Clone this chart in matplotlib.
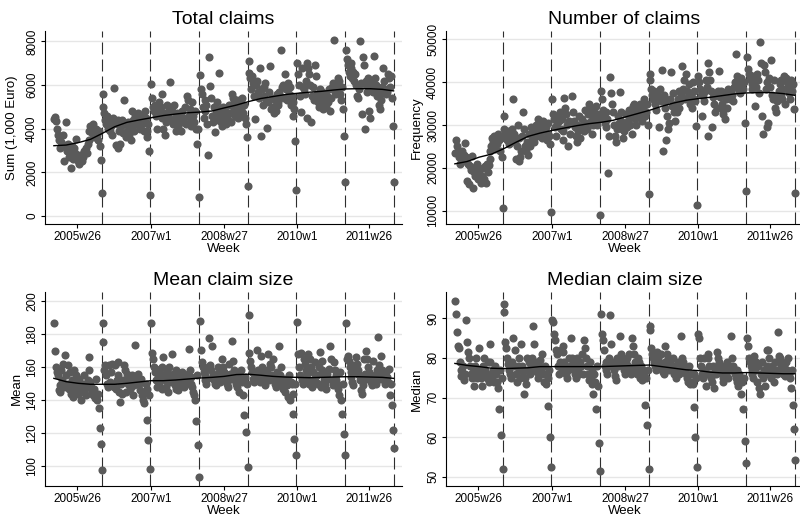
import numpy as np
import matplotlib
matplotlib.use("Agg")
import matplotlib.pyplot as plt

plt.rcParams['font.family'] = ['Liberation Sans', 'DejaVu Sans']

# weekly series, 2005w1 .. 2011w52 (one row of 10 weeks per line, 52 weeks per year)
total_claims = [
    # 2005
    4450, 4550, 4350, 4000, 3700, 3500, 3600, 3100, 3400, 3300,
    3700, 2500, 3200, 4300, 3000, 3300, 2700, 2900, 2200, 3200,
    2600, 2800, 3100, 2900, 3550, 2700, 2500, 2400, 2800, 2600,
    2500, 2700, 3000, 2900, 3100, 2900, 3300, 3500, 3900, 4100,
    4000, 3800, 4200, 3600, 3900, 4000, 3700, 3500, 3900, 3200,
    2550, 1040,
    # 2006
    5600, 5000, 4700, 4400, 4200, 4600, 4000, 4300, 3900, 4100,
    3700, 4500, 5850, 4300, 3250, 4200, 4400, 3100, 3900, 3300,
    4100, 4400, 3800, 5300, 4200, 3600, 3900, 4300, 3700, 4000,
    3500, 4100, 4800, 4400, 3900, 4600, 4200, 4500, 4700, 4300,
    4000, 4600, 4200, 4400, 3900, 4800, 4500, 3900, 3600, 4200,
    3000, 960,
    # 2007
    6050, 5400, 5000, 4800, 5100, 4600, 4000, 4900, 5200, 4700,
    5000, 4500, 5600, 4000, 4700, 3700, 4300, 5100, 4600, 4900,
    6150, 4400, 4800, 4200, 5100, 4500, 3900, 4300, 4700, 4100,
    4600, 4400, 3900, 4800, 4300, 4500, 5000, 4200, 5500, 5300,
    4600, 4900, 4100, 4400, 5200, 4600, 4300, 4800, 4000, 3300,
    4000, 850,
    # 2008
    6450, 5800, 5600, 5000, 4500, 5300, 4800, 5100, 4200, 2800,
    7300, 5950, 5400, 4600, 4300, 5000, 3850, 4700, 5200, 4400,
    6550, 4600, 4900, 4300, 4100, 5000, 4500, 4800, 4200, 4600,
    4400, 5100, 4700, 4300, 5600, 5400, 4900, 5200, 4600, 5000,
    5300, 4500, 4800, 5200, 4900, 5400, 4700, 5100, 4500, 4200,
    3600, 1380,
    # 2009
    7100, 6550, 6300, 5800, 6400, 6100, 5500, 4450, 6000, 6200,
    5700, 5400, 6800, 3650, 5800, 5100, 5900, 5500, 6100, 5300,
    4050, 5200, 5700, 6850, 4900, 5400, 5000, 4700, 5300, 4800,
    5600, 5200, 5100, 5700, 5500, 7600, 5900, 6000, 5400, 6500,
    5800, 5300, 6100, 5600, 5900, 5100, 5500, 4600, 5200, 4900,
    3450, 1200,
    # 2010
    7000, 6500, 6000, 5500, 4750, 6800, 5900, 5800, 5600, 6200,
    4500, 7000, 6800, 6500, 6000, 4300, 5500, 5900, 5300, 6900,
    6400, 5600, 5200, 5000, 5800, 5400, 5100, 5700, 4900, 5300,
    5600, 5000, 5500, 5200, 5800, 4800, 5400, 5900, 6100, 8050,
    5700, 5600, 6000, 5800, 6300, 6200, 5600, 5300, 5900, 4900,
    3650, 1550,
    # 2011
    7600, 7200, 6900, 6600, 6400, 7000, 6800, 6300, 6600, 6200,
    6500, 6000, 5500, 5400, 5800, 8000, 6100, 4650, 7300, 6900,
    4000, 6200, 6000, 5700, 6300, 4800, 4500, 5900, 6100, 5700,
    7350, 6300, 6000, 5500, 5800, 5100, 4900, 5600, 5300, 5900,
    6800, 6200, 5800, 5600, 5700, 6500, 6300, 5900, 6400, 5400,
    4100, 1580,
]

number_claims = [
    # 2005
    23500, 26500, 25000, 24000, 22500, 21000, 23000, 22000, 24000, 21500,
    23000, 25700, 22500, 17000, 21000, 16200, 20500, 19500, 22700, 15200,
    19000, 20000, 18000, 19500, 21000, 17500, 18500, 19800, 16500, 18000,
    20000, 17500, 20500, 16500, 21000, 19000, 20700, 24000, 22000, 25000,
    27000, 26000, 27500, 24500, 26800, 25500, 27800, 26500, 24000, 27000,
    22500, 10600,
    # 2006
    32000, 29000, 28000, 27000, 26500, 28500, 25500, 27500, 26000, 29000,
    36000, 28000, 26500, 22000, 25000, 30000, 21500, 27000, 22500, 24000,
    27500, 33000, 29000, 25000, 24000, 26000, 23000, 28000, 25000, 29500,
    26500, 27000, 28500, 26000, 29000, 30000, 27500, 31500, 28000, 30500,
    29000, 27000, 31000, 28500, 30000, 29500, 26500, 28000, 30500, 27500,
    25500, 9700,
    # 2007
    36000, 32500, 31500, 29500, 27500, 30500, 32000, 31000, 33000, 29000,
    31500, 26500, 28500, 36300, 34000, 32500, 30000, 25000, 31000, 28000,
    30500, 36800, 33000, 31000, 29500, 27500, 26000, 30000, 28500, 32000,
    27000, 29500, 31500, 30000, 28500, 33500, 30500, 29000, 32500, 35000,
    34000, 31000, 28000, 32500, 30000, 33000, 31500, 34500, 30000, 32500,
    31500, 9000,
    # 2008
    38000, 36000, 33500, 32000, 30500, 33000, 29500, 31500, 18700, 27500,
    41200, 37500, 35000, 33000, 30000, 27500, 26000, 29000, 32000, 30500,
    37800, 33000, 31000, 29000, 27000, 28500, 30500, 32500, 29500, 31000,
    33500, 30000, 32000, 28000, 34500, 35000, 33000, 31500, 30000, 32500,
    34000, 32000, 35000, 33500, 31000, 34000, 36000, 32000, 33000, 35000,
    30000, 13800,
    # 2009
    42000, 40500, 38500, 37000, 36000, 38000, 35000, 33500, 37500, 36500,
    29500, 38500, 35500, 42800, 24000, 37000, 34000, 35500, 26500, 32000,
    29000, 30500, 36000, 42400, 34500, 37500, 33000, 31000, 35000, 33000,
    36000, 38000, 34000, 35500, 37000, 43900, 38500, 40500, 36000, 42000,
    38000, 36500, 39500, 35000, 37000, 34000, 40000, 36000, 38000, 35500,
    29700, 11400,
    # 2010
    41500, 40000, 38500, 37000, 32000, 37000, 35500, 38000, 40500, 39000,
    27400, 44500, 42500, 40500, 38000, 29500, 36500, 35000, 33000, 37000,
    34000, 38000, 42700, 36500, 38000, 35000, 33500, 32500, 37500, 31500,
    36000, 34000, 38500, 37500, 36000, 38000, 37000, 35500, 39000, 40000,
    46500, 41500, 39000, 40000, 38000, 37500, 41000, 39500, 38500, 40000,
    30500, 14500,
    # 2011
    45800, 43000, 42000, 41000, 40500, 39500, 38500, 41500, 40000, 34500,
    39000, 42000, 40500, 37500, 49500, 44500, 32000, 27800, 44000, 42500,
    38500, 29500, 40000, 30500, 41000, 39000, 45200, 37000, 36000, 40500,
    34000, 33000, 35500, 36500, 38000, 39500, 37000, 40500, 36000, 38500,
    41500, 35000, 41000, 40000, 39000, 37500, 36000, 40500, 38000, 39500,
    33800, 14200,
]

mean_claim = [
    # 2005
    186.5, 169.5, 160, 157, 155, 146, 149, 145, 158, 152,
    162, 148, 167.5, 155, 150, 161, 147, 157, 144, 152,
    142, 149, 158, 146, 155, 151, 144, 153, 148, 140,
    145, 150, 155, 147, 143, 149, 152, 158, 166, 151,
    148, 145, 143, 147, 141, 153, 140, 144, 135.5, 123,
    113.5, 97.5,
    # 2006
    175, 186.5, 158, 161, 155, 150, 148, 161, 151, 157,
    162, 149, 148, 161, 147, 152, 155, 163, 145, 139,
    150, 144, 152, 161, 158, 145, 156, 150, 153, 147,
    148, 152, 155, 143, 149, 173.5, 154, 151, 156, 150,
    146, 153, 143, 140, 138.5, 145, 150, 128, 147, 116,
    143, 98.5,
    # 2007
    187, 168.5, 165, 160, 157, 152, 148, 155, 150, 159,
    153, 147, 160, 166, 155, 152, 148, 157, 145, 160,
    151, 154, 168, 156, 153, 149, 147, 158, 150, 146,
    155, 152, 149, 157, 151, 148, 154, 150, 153, 156,
    171, 158, 154, 150, 148, 145, 143, 140, 127.5, 155,
    112.5, 93.5,
    # 2008
    188, 170.5, 163, 160, 157, 152, 155, 150, 153, 160,
    177.5, 161, 158, 173, 155, 152, 150, 149, 156, 160,
    154, 151, 157, 153, 165, 160, 157, 155, 152, 150,
    148, 162, 156, 153, 176, 164, 158, 155, 152, 150,
    148, 156, 145, 153, 158, 151, 143, 131, 154, 120.5,
    150, 99.5,
    # 2009
    191.5, 168.5, 164, 160, 157, 153, 151, 155, 152, 170.5,
    158, 154, 151, 166.5, 160, 157, 154, 151, 149, 155,
    158, 168, 152, 162, 160, 155, 165, 152, 150, 148,
    157, 154, 151, 173, 155, 160, 150, 147, 153, 145,
    152, 149, 142, 155, 140, 151, 150, 131.5, 144, 116.5,
    150, 106.5,
    # 2010
    187.5, 168, 160, 155, 168.5, 152, 150, 165, 162, 158,
    153, 156, 168, 150, 165, 160, 148, 157, 153, 163,
    151, 155, 150, 160, 169, 148, 164, 158, 155, 152,
    150, 147, 156, 153, 159, 173, 165, 152, 149, 163,
    158, 155, 152, 150, 147, 143, 157, 140, 131.5, 150,
    119.5, 107,
    # 2011
    187, 165, 167, 164, 160, 157, 154, 151, 149, 161,
    157, 166, 162, 158, 155, 152, 146, 144, 149, 165,
    156, 153, 170, 165, 160, 157, 154, 151, 149, 164,
    152, 155, 150, 158, 178.5, 161, 156, 153, 167, 158,
    155, 152, 150, 157, 154, 151, 159, 143, 150, 137,
    122, 111,
]

median_claim = [
    # 2005
    94.3, 91, 86.5, 83, 82.5, 79, 77, 75.5, 76.5, 78,
    74.5, 76, 89.5, 84, 81.5, 80, 78, 76, 75, 77.5,
    73, 76, 78, 80, 75, 77, 82.5, 76, 75, 72.8,
    78, 80, 77, 76, 75, 79, 74, 83.5, 79, 76,
    75, 77, 74, 78, 76, 74, 72.5, 67, 77, 60.5,
    75, 52,
    # 2006
    93.6, 91.5, 84, 82.5, 80, 78.5, 77, 76, 75, 79,
    85, 78, 82, 76, 74, 78, 80, 77, 75, 83.5,
    78, 76.5, 71, 75, 73.5, 80, 77, 79, 76, 78,
    80, 77, 88, 83.5, 79, 78, 76.5, 75, 78, 79.5,
    77, 81, 76, 74, 78, 73.5, 76, 75, 67.8, 77,
    60, 52.5,
    # 2007
    89.5, 89, 86, 84.5, 82, 81, 78, 76, 79, 82,
    77, 83, 81.5, 79, 77.5, 76, 75, 77, 80, 78,
    85, 80, 79, 77, 76, 75, 78, 80, 77, 76,
    79, 78, 81, 76, 84.5, 82.5, 80, 78, 76, 74.5,
    79, 75, 77, 73.5, 71, 76, 74, 67, 78, 73,
    58.5, 51.5,
    # 2008
    91, 86, 84.5, 82, 78, 77, 79, 76, 78, 80,
    90.8, 83.5, 79, 78, 77, 75.5, 74.5, 80, 78, 79,
    85.5, 81, 80, 79, 78, 77, 76, 79, 80, 78,
    81, 77, 76, 85, 83, 81, 79, 78, 77, 76,
    80, 79, 75, 78, 74.5, 77, 76, 68, 75, 63,
    77, 52,
    # 2009
    88, 87, 82.5, 81, 80, 79, 78, 77, 81.5, 80,
    79, 78, 81, 77, 76.5, 76, 79, 83, 78, 81,
    80, 77, 79, 78, 77, 80, 76, 78, 75, 77,
    79, 76, 78, 77, 85.5, 80, 79, 78, 77, 76,
    75, 74, 78, 73.5, 76, 74, 73.5, 67.5, 76, 60,
    75, 52.5,
    # 2010
    86, 85, 80, 78, 76, 75, 80, 77, 73, 76,
    81, 80, 78, 76, 75, 74, 78, 72.5, 77, 76,
    81.5, 80, 79, 78, 77, 76, 75, 74, 78, 77,
    76, 79, 75, 78, 77, 85.5, 80, 78, 77, 76,
    75, 74, 77, 73, 76, 75, 71, 74, 67, 75,
    59, 53.5,
    # 2011
    85, 83, 80, 79, 78, 77, 76, 75, 80.5, 77,
    79, 74, 78, 72.5, 71, 76, 79, 75, 77, 73,
    76, 82, 78, 82, 80, 77, 75, 78, 76, 74,
    79, 77, 76, 86.5, 80.5, 80, 79, 78, 77, 76,
    78, 75.5, 79, 77, 80, 76, 75, 72.5, 77, 68,
    62, 54.3,
]

# smoothed trend every 13 weeks
trend_weeks = [0, 13, 26, 39, 52, 65, 78, 91, 104, 117, 130, 143, 156, 169, 182,
               195, 208, 221, 234, 247, 260, 273, 286, 299, 312, 325, 338, 351, 363]
total_trend = [3220, 3250, 3360, 3510, 3790, 4090, 4290, 4400, 4500, 4600, 4670, 4730,
               4760, 4810, 4950, 5080, 5240, 5380, 5470, 5560, 5620, 5670, 5710, 5770,
               5820, 5830, 5830, 5800, 5730]
number_trend = [20940, 21480, 22500, 23200, 24450, 25940, 27340, 28120, 28750, 29300,
                29840, 30310, 30630, 31100, 31880, 32660, 33440, 34380, 35160, 35780,
                36170, 36480, 36880, 37270, 37500, 37580, 37580, 37340, 36950]
mean_trend = [153.2, 151.2, 150.2, 149.6, 149.6, 149.6, 150.2, 151.0, 151.8, 151.8,
              152.2, 152.8, 153.4, 153.8, 154.4, 155.5, 155.7, 155.1, 154.4, 154.0,
              153.8, 153.6, 153.8, 154.0, 154.2, 154.2, 154.0, 153.8, 153.2]
median_trend = [78.6, 78.1, 77.8, 77.4, 77.3, 77.4, 77.5, 77.8, 77.8, 77.8, 77.8, 77.8,
                77.8, 77.9, 78.0, 78.1, 78.2, 77.8, 77.4, 77.0, 76.8, 76.4, 76.2, 76.2,
                76.3, 76.2, 76.1, 76.0, 76.0]

year_end_weeks = [51, 103, 155, 207, 259, 311, 363]
tick_weeks = [25, 104, 182, 260, 337]
tick_labels = ["2005w26", "2007w1", "2008w27", "2010w1", "2011w26"]

panels = [
    ("Total claims", "Sum (1,000 Euro)", total_claims, total_trend,
     [0, 2000, 4000, 6000, 8000], (-366, 8470), [0.05625, 0.570, 0.44625, 0.3704], -0.077),
    ("Number of claims", "Frequency", number_claims, number_trend,
     [10000, 20000, 30000, 40000, 50000], (6880, 51950), [0.5575, 0.570, 0.44625, 0.3704], -0.066),
    ("Mean claim size", "Mean", mean_claim, mean_trend,
     [100, 120, 140, 160, 180, 200], (87.9, 205.8), [0.05625, 0.0672, 0.44625, 0.373], -0.063),
    ("Median claim size", "Median", median_claim, median_trend,
     [50, 60, 70, 80, 90], (47.7, 96.7), [0.5575, 0.0672, 0.44625, 0.373], -0.066),
]

fig = plt.figure(figsize=(8, 5.21), dpi=100)
fig.patch.set_facecolor("white")

for title, ylab, values, trend, yticks, ylim, pos, labx in panels:
    ax = fig.add_axes(pos)
    weeks = np.arange(len(values))
    for w in year_end_weeks:
        ax.axvline(w, color="#2e2e2e", lw=0.8, linestyle=(0, (10.8, 4.5)), zorder=1)
    ax.scatter(weeks, values, s=34, color="#5a5a5a", linewidths=0, zorder=2)
    ax.plot(trend_weeks, trend, color="black", lw=1.0, zorder=3)

    ax.set_xlim(-9.5, 372)
    ax.set_ylim(*ylim)
    ax.set_xticks(tick_weeks)
    ax.set_xticklabels(tick_labels, fontsize=8.5)
    ax.set_yticks(yticks)
    ax.set_yticklabels([str(t) for t in yticks], fontsize=8.5, rotation=90, va="center")
    ax.tick_params(direction="out", length=3, width=0.8, pad=2)
    ax.yaxis.grid(True, color="#e6e6e6", lw=1.0, zorder=0)
    ax.set_axisbelow(True)
    for side in ("top", "right"):
        ax.spines[side].set_visible(False)
    for side in ("left", "bottom"):
        ax.spines[side].set_linewidth(0.8)

    ax.set_title(title, fontsize=14, pad=5)
    ax.set_xlabel("Week", fontsize=9.5, labelpad=0)
    ax.set_ylabel(ylab, fontsize=9.5)
    ax.yaxis.set_label_coords(labx, 0.5)

fig.savefig("out.png", dpi=100, facecolor="white")
